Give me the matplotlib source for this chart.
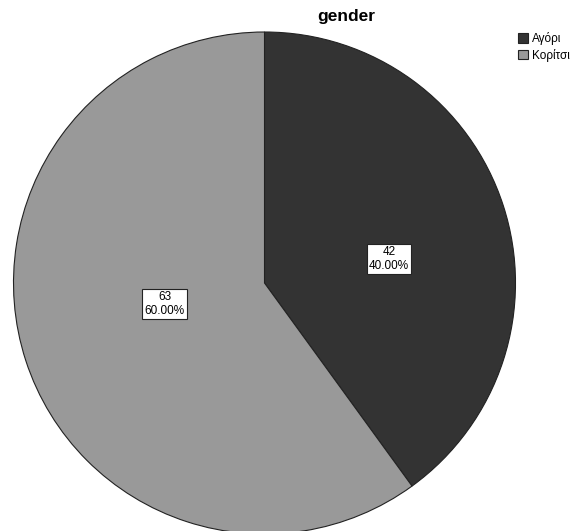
import matplotlib
matplotlib.use("Agg")
import matplotlib.pyplot as plt
from matplotlib.patches import Patch

categories = ["Αγόρι", "Κορίτσι"]
counts = [42, 63]
percents = [40.00, 60.00]
colors = ["#333333", "#999999"]

plt.rcParams['font.family'] = ['Liberation Sans', 'DejaVu Sans']

W, H = 570, 531
fig = plt.figure(figsize=(W / 100, H / 100), dpi=100)
ax = fig.add_axes([0, 0, 1, 1])

ax.pie(counts, colors=colors, startangle=90, counterclock=False,
       center=(264.5, H - 283), radius=251, frame=True,
       wedgeprops=dict(edgecolor='#222222', linewidth=0.8))
ax.set_xlim(0, W)
ax.set_ylim(0, H)
ax.set_aspect('equal')
ax.axis('off')

label_pos = [(389, H - 259), (164.5, H - 304)]
for (x, y), c, p in zip(label_pos, counts, percents):
    ax.text(x, y, f"{c}\n{p:.2f}%", ha='center', va='center', fontsize=8.5,
            linespacing=1.15,
            bbox=dict(boxstyle='square,pad=0.2', facecolor='white',
                      edgecolor='#222222', linewidth=0.8))

fig.text(346.5 / W, 1 - 17 / H, "gender", ha='center', va='center',
         fontsize=12.5, fontweight='bold')

handles = [Patch(facecolor=col, edgecolor='#222222', linewidth=0.8) for col in colors]
fig.legend(handles, categories, loc='upper left',
           bbox_to_anchor=(517 / W, 1 - 31 / H),
           frameon=False, fontsize=8.5, handlelength=0.85, handleheight=0.85,
           handletextpad=0.3, labelspacing=0.3, borderpad=0.1, borderaxespad=0)

fig.savefig("out.png", dpi=100)
